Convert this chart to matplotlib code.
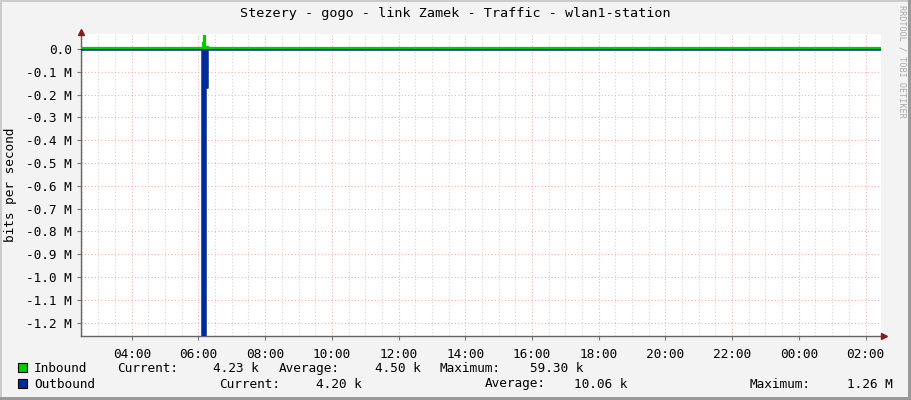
import numpy as np
import matplotlib.pyplot as plt
from matplotlib.patches import Rectangle

# time in hours since midnight (values > 24 belong to the next day)
t_start = 2.464
t_end = 26.464

in_times = [t_start, 6.12, 6.15, 6.20, 6.29, t_end]
in_vals = [4.5e3, 30e3, 59.3e3, 11e3, 4.5e3, 4.5e3]

out_times = [t_start, 6.11, 6.23, 6.29, t_end]
out_vals = [4.2e3, 1.26e6, 0.17e6, 4.2e3, 4.2e3]

y_ticks = [0, -0.1e6, -0.2e6, -0.3e6, -0.4e6, -0.5e6, -0.6e6, -0.7e6,
           -0.8e6, -0.9e6, -1.0e6, -1.1e6, -1.2e6]
y_labels = ['0.0'] + ['-%.1f M' % (abs(v) / 1e6) for v in y_ticks[1:]]
x_ticks = [4, 6, 8, 10, 12, 14, 16, 18, 20, 22, 24, 26]
x_labels = ['%02d:00' % (h % 24) for h in x_ticks]

title = 'Stezery - gogo - link Zamek - Traffic - wlan1-station'
legend_rows = [
    ('Inbound', '#00CC00', [('Current:', 117, 'l'), ('4.23 k', 259, 'r'),
                            ('Average:', 279, 'l'), ('4.50 k', 421, 'r'),
                            ('Maximum:', 440, 'l'), ('59.30 k', 583, 'r')]),
    ('Outbound', '#002A97', [('Current:', 219, 'l'), ('4.20 k', 362, 'r'),
                             ('Average:', 485, 'l'), ('10.06 k', 627, 'r'),
                             ('Maximum:', 749, 'l'), ('1.26 M', 893, 'r')]),
]

W, H = 911, 400
mono = 'DejaVu Sans Mono'
fig = plt.figure(figsize=(W / 100, H / 100), dpi=100)
fig.patch.set_facecolor('#F3F3F3')

# 3d border like rrdtool
fig.add_artist(Rectangle((0, 1 - 2 / H), 1, 2 / H, transform=fig.transFigure, color='#CBCBCB', lw=0))
fig.add_artist(Rectangle((0, 0), 2 / W, 1, transform=fig.transFigure, color='#CBCBCB', lw=0))
fig.add_artist(Rectangle((0, 0), 1, 3 / H, transform=fig.transFigure, color='#999999', lw=0))
fig.add_artist(Rectangle((1 - 3 / W, 0), 3 / W, 1, transform=fig.transFigure, color='#999999', lw=0))

left, right, top, bottom = 80.5, 881, 34, 336
ax = fig.add_axes([left / W, 1 - bottom / H, (right - left) / W, (bottom - top) / H])
ax.set_facecolor('white')
ax.set_xlim(t_start, t_end)
ax.set_ylim(-1.259e6, 0.0658e6)

# grid
for h in np.arange(2.5, t_end, 0.5):
    if h % 2 == 0:
        continue
    ax.axvline(h, color='#D4D4D4', lw=0.8, ls=(0, (1, 2)), zorder=1)
for h in x_ticks:
    ax.axvline(h, color='#F4B0B0', lw=0.8, ls=(0, (1, 2)), zorder=1)
for v in y_ticks:
    ax.axhline(v, color='#F4B0B0', lw=0.8, ls=(0, (1, 2)), zorder=1)

# data
ax.fill_between(in_times, 0, in_vals, step='post', color='#00CC00', lw=0, zorder=3)
ax.step(in_times, np.array(in_vals) + 2.5e3, where='post', color='#00CC00', lw=0.9, zorder=3)
out_neg = -np.array(out_vals)
ax.fill_between(out_times, 0, out_neg, step='post', color='#002A97', lw=0, zorder=4)
ax.step(out_times, out_neg - 1.5e3, where='post', color='#002A97', lw=1.1, zorder=4)

ax.set_xticks(x_ticks)
ax.set_xticklabels(x_labels, family=mono, fontsize=9.2)
ax.set_yticks(y_ticks)
ax.set_yticklabels(y_labels, family=mono, fontsize=9.2)
ax.tick_params(axis='both', length=3, width=0.8, color='#777777', pad=3)
ax.tick_params(axis='x', pad=6)
for s in ['top', 'right']:
    ax.spines[s].set_visible(False)
for s in ['left', 'bottom']:
    ax.spines[s].set_color('#666666')
    ax.spines[s].set_linewidth(1)

# arrows
ax.plot([0], [1.0 + 2 / 302], marker='^', ms=5, color='#8B1A1A', transform=ax.transAxes, clip_on=False, zorder=6)
ax.plot([1.0 + 3 / 800], [0], marker='>', ms=5, color='#8B1A1A', transform=ax.transAxes, clip_on=False, zorder=6)

fig.text(455.5 / W, 1 - 14 / H, title, family=mono, fontsize=9.7, ha='center', va='center')
fig.text(11 / W, 1 - 185 / H, 'bits per second', family=mono, fontsize=9.2,
         rotation=90, ha='center', va='center')
fig.text(902 / W, 1 - 5 / H, 'RRDTOOL / TOBI OETIKER', family=mono, fontsize=6.1,
         rotation=270, ha='center', va='top', color='#A8A8A8')

# legend
for i, (name, col, items) in enumerate(legend_rows):
    yc = 368.5 + i * 15.5
    fig.add_artist(Rectangle((17.5 / W, 1 - (yc + 4.5 - 1) / H), 9 / W, 9 / H,
                             transform=fig.transFigure, facecolor=col, edgecolor='black', lw=0.8))
    fig.text(34 / W, 1 - yc / H, name, family=mono, fontsize=9.2, va='center')
    for txt, x, al in items:
        fig.text(x / W, 1 - yc / H, txt, family=mono, fontsize=9.2, va='center',
                 ha='left' if al == 'l' else 'right')

fig.savefig('out.png', dpi=100, facecolor=fig.get_facecolor())
